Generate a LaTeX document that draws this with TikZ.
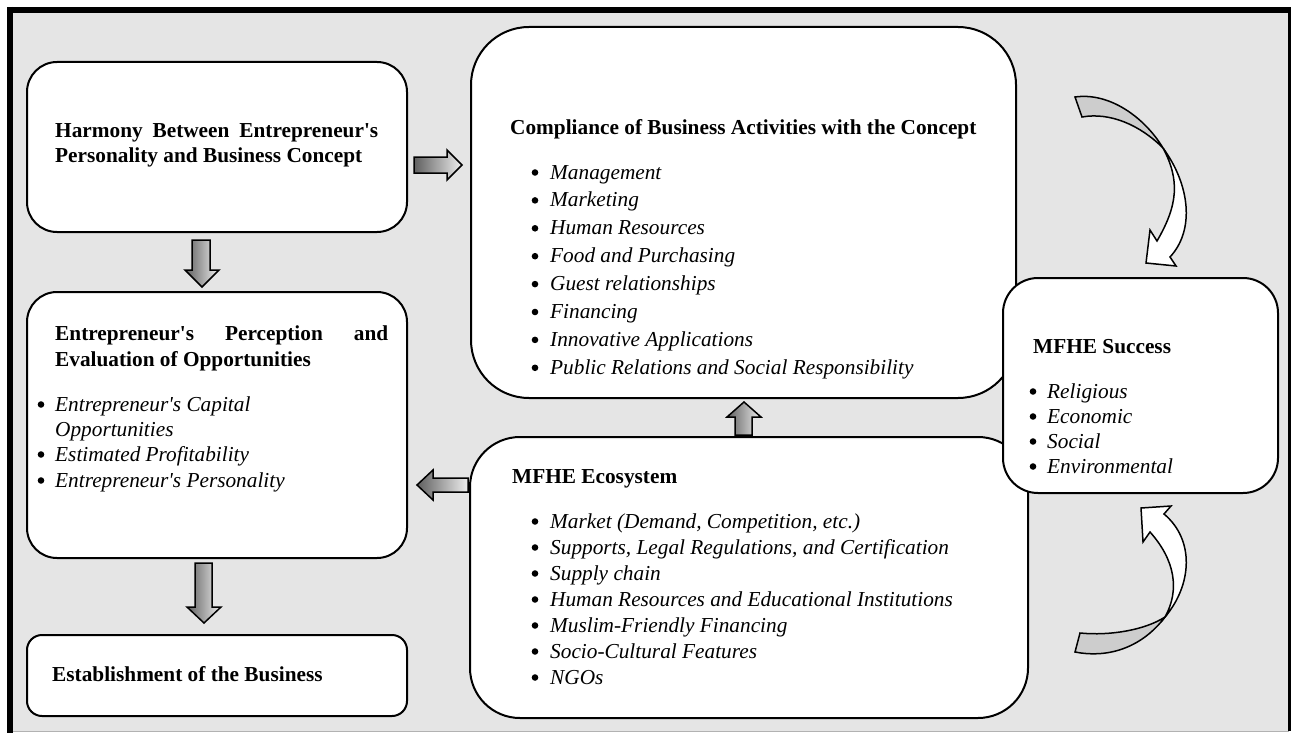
\documentclass[tikz,border=0pt]{standalone}
\usepackage{fontspec}
\setmainfont{Liberation Serif}[Ligatures=TeXOff]
\definecolor{bg}{RGB}{229,229,229}
\definecolor{lens}{RGB}{205,205,205}
\definecolor{shdark}{RGB}{95,95,95}
\definecolor{shlight}{RGB}{238,238,238}
\tikzset{
  box/.style={draw=black, line width=2pt, fill=white},
  barrow/.style={draw=black, line width=1.5pt, line join=miter, left color=shdark, right color=shlight},
  carrow/.style={draw=black, line width=1.5pt, line join=miter, fill=white},
  clens/.style={draw=black, line width=1.5pt, fill=lens},
  txt/.style={anchor=base west, inner sep=0pt, font=\fontsize{21.3}{25}\selectfont},
  ttl/.style={txt, font=\fontsize{21.3}{25}\selectfont\bfseries},
  itm/.style={txt, font=\fontsize{21.3}{25}\selectfont\itshape},
  bul/.style={fill=black}
}
\begin{document}
\begin{tikzpicture}[x=1pt,y=-1pt]
\useasboundingbox (0,0) rectangle (1295,733);
% frame
\fill[bg] (10,10) rectangle (1289,731);
\draw[line width=0.8pt, gray!60] (10,731) -- (1289,731);
\draw[line width=6pt] (7,10) -- (1291,10);
\draw[line width=6pt] (10,7) -- (10,733);
\draw[line width=3pt] (1289,8.5) -- (1289,731);

% boxes
\draw[box, rounded corners=30pt] (27,62) rectangle (407,232);
\draw[box, rounded corners=58pt] (471,27) rectangle (1016,398);
\draw[box, rounded corners=30pt] (27,292) rectangle (407,558);
\draw[box, rounded corners=15pt] (27,635) rectangle (407,716);
\draw[box, rounded corners=50pt] (470,437) rectangle (1028,718);
\draw[box, rounded corners=35pt] (1003,278) rectangle (1278,493);

% block arrows
\draw[barrow] (414,157) -- (447,157) -- (447,150) -- (462,165) -- (447,180) -- (447,173) -- (414,173) -- cycle;
\draw[barrow] (192,240) -- (210,240) -- (210,270) -- (219,270) -- (202,287) -- (185,270) -- (192,270) -- cycle;
\draw[barrow] (195,563) -- (212,563) -- (212,607) -- (221,607) -- (204,623) -- (187,607) -- (195,607) -- cycle;
\draw[barrow] (735,435) -- (752,435) -- (752,417) -- (761,417) -- (744,402) -- (727,417) -- (735,417) -- cycle;
\draw[barrow] (468,478) -- (433,478) -- (433,470) -- (417,485) -- (433,500) -- (433,492) -- (468,492) -- cycle;

% curved arrow top
\draw[clens] (1075,97) .. controls (1110,92) and (1145,118) .. (1163,148)
  .. controls (1140,125) and (1110,112) .. (1082,117) -- cycle;
\draw[carrow] (1163,148) .. controls (1190,185) and (1195,230) .. (1170,257)
  -- (1176,266) -- (1146,263) -- (1150,230) -- (1157,241)
  .. controls (1178,205) and (1180,180) .. (1163,148) -- cycle;
% curved arrow bottom
\draw[clens] (1165,617) .. controls (1140,650) and (1105,658) .. (1075,652)
  -- (1080,633) .. controls (1110,636) and (1145,630) .. (1165,617) -- cycle;
\draw[carrow] (1165,617) .. controls (1192,585) and (1195,540) .. (1164,514)
  -- (1171,506) -- (1141,508) -- (1143,542) -- (1150,532)
  .. controls (1175,560) and (1180,590) .. (1165,617) -- cycle;

% texts A
\node[ttl] (a1) at (55,137) {\hbox to 323pt{Harmony\hfill Between\hfill Entrepreneur's}};
\node[ttl] (a2) at (55,162) {Personality and Business Concept};
% B
\node[ttl] (b0) at (510,135) {Compliance of Business Activities with the Concept};
\foreach \t [count=\i from 0] in {Management,Marketing,Human Resources,Food and Purchasing,Guest relationships,Financing,Innovative Applications,Public Relations and Social Responsibility}{
  \fill[bul] (535,{179+27.9*\i-6.5}) circle (3.3);
  \node[itm] (bt\i) at (550,{179+27.9*\i}) {\t};
}
% C
\node[ttl] (c1) at (55,340) {\hbox to 333pt{Entrepreneur's\hfill Perception\hfill and}};
\node[ttl] (c2) at (55,366) {Evaluation of Opportunities};
\fill[bul] (41,404.5) circle (3.3);
\node[itm] (ct0) at (55,411) {Entrepreneur's Capital};
\node[itm] (ct1) at (55,436) {Opportunities};
\fill[bul] (41,454.5) circle (3.3);
\node[itm] (ct2) at (55,461) {Estimated Profitability};
\fill[bul] (41,480.5) circle (3.3);
\node[itm] (ct3) at (55,487) {Entrepreneur's Personality};
% D
\node[ttl] (d1) at (52,681) {Establishment of the Business};
% E
\node[ttl] (e0) at (512,483) {MFHE Ecosystem};
\foreach \t [count=\i from 0] in {Market (Demand{,} Competition{,} etc.),Supports{,} Legal Regulations{,} and Certification,Supply chain,Human Resources and Educational Institutions,Muslim-Friendly Financing,Socio-Cultural Features,NGOs}{
  \fill[bul] (535,{528+26*\i-6.5}) circle (3.3);
  \node[itm] (et\i) at (550,{528+26*\i}) {\t};
}
% F
\node[ttl] (f0) at (1033,353) {MFHE Success};
\foreach \t [count=\i from 0] in {Religious,Economic,Social,Environmental}{
  \fill[bul] (1033,{398+25*\i-6.5}) circle (3.3);
  \node[itm] (ft\i) at (1047,{398+25*\i}) {\t};
}
\end{tikzpicture}
\end{document}
